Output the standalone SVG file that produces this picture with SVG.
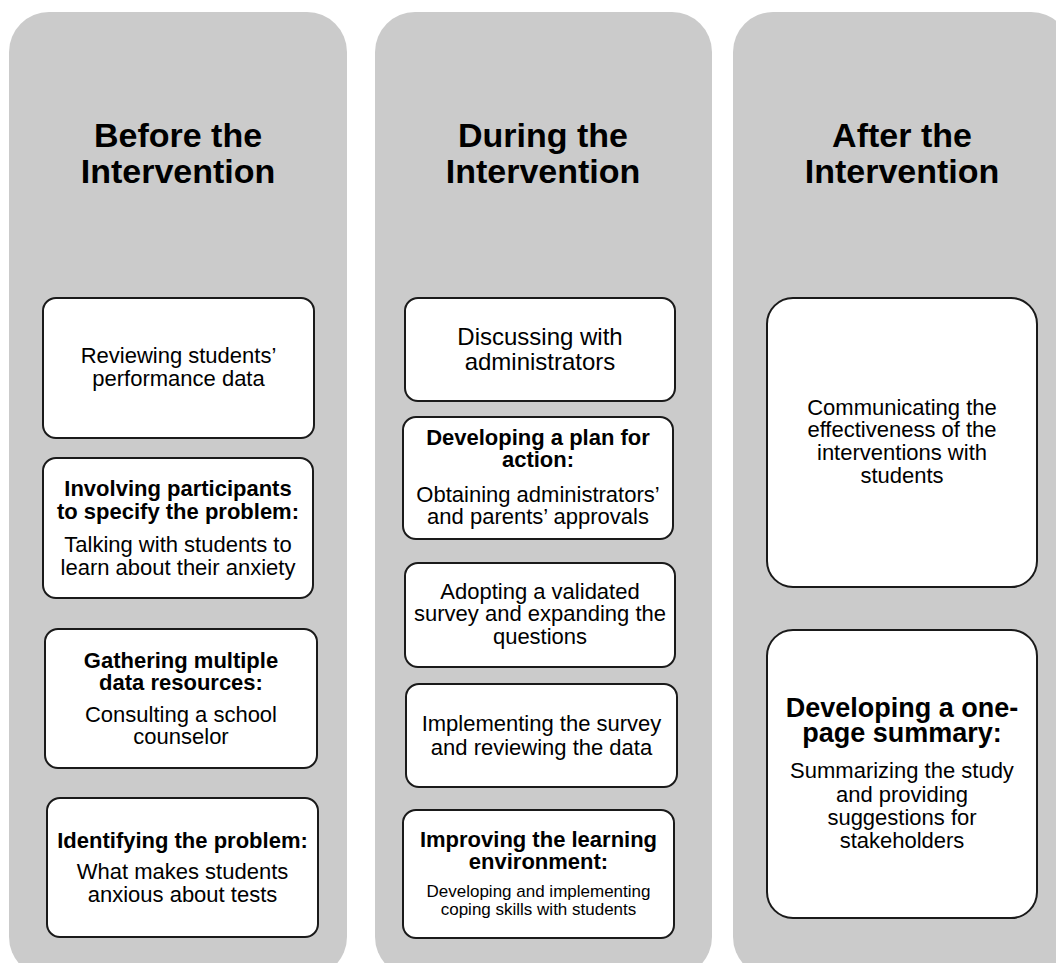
<svg xmlns="http://www.w3.org/2000/svg" width="1056" height="963" viewBox="0 0 1056 963">
  <style>
    .panel { fill: #cbcbcb; }
    .box { fill: #ffffff; stroke: #1a1a1a; stroke-width: 2; }
    text { font-family: "Liberation Sans", Arial, sans-serif; fill: #000; text-anchor: middle; }
    .head { font-size: 34px; font-weight: bold; }
    .b { font-size: 22px; font-weight: bold; }
    .r { font-size: 22px; }
    .big { font-size: 24px; }
    .small { font-size: 17px; }
    .bigb { font-size: 27px; font-weight: bold; }
  </style>

  <!-- phase panels -->
  <g id="panel-before">
    <rect class="panel" x="9" y="12" width="338" height="965" rx="40"/>
    <text class="head" x="178" y="147">Before the</text>
    <text class="head" x="178" y="183">Intervention</text>
  </g>
  <g id="panel-during">
    <rect class="panel" x="375" y="12" width="337" height="965" rx="40"/>
    <text class="head" x="543" y="147">During the</text>
    <text class="head" x="543" y="183">Intervention</text>
  </g>
  <g id="panel-after">
    <rect class="panel" x="733" y="12" width="338" height="965" rx="40"/>
    <text class="head" x="902" y="147">After the</text>
    <text class="head" x="902" y="183">Intervention</text>
  </g>

  <!-- before the intervention -->
  <g id="reviewing-data">
    <rect class="box" x="43" y="298" width="271" height="140" rx="13"/>
    <text class="r" x="178.5" y="363">Reviewing students’</text>
    <text class="r" x="178.5" y="386">performance data</text>
  </g>
  <g id="involving-participants">
    <rect class="box" x="43" y="458" width="270" height="140" rx="13"/>
    <text class="b" x="178" y="496">Involving participants</text>
    <text class="b" x="178" y="519">to specify the problem:</text>
    <text class="r" x="178" y="552">Talking with students to</text>
    <text class="r" x="178" y="575">learn about their anxiety</text>
  </g>
  <g id="gathering-resources">
    <rect class="box" x="45" y="629" width="272" height="139" rx="13"/>
    <text class="b" x="181" y="668">Gathering multiple</text>
    <text class="b" x="181" y="690">data resources:</text>
    <text class="r" x="181" y="722">Consulting a school</text>
    <text class="r" x="181" y="744">counselor</text>
  </g>
  <g id="identifying-problem">
    <rect class="box" x="47" y="798" width="271" height="139" rx="13"/>
    <text class="b" x="182.5" y="848">Identifying the problem:</text>
    <text class="r" x="182.5" y="879">What makes students</text>
    <text class="r" x="182.5" y="902">anxious about tests</text>
  </g>

  <!-- during the intervention -->
  <g id="discussing">
    <rect class="box" x="405" y="298" width="270" height="103" rx="13"/>
    <text class="big" x="540" y="345">Discussing with</text>
    <text class="big" x="540" y="370">administrators</text>
  </g>
  <g id="plan-for-action">
    <rect class="box" x="403" y="417" width="270" height="122" rx="13"/>
    <text class="b" x="538" y="445">Developing a plan for</text>
    <text class="b" x="538" y="467">action:</text>
    <text class="r" x="538" y="502">Obtaining administrators’</text>
    <text class="r" x="538" y="524">and parents’ approvals</text>
  </g>
  <g id="adopting-survey">
    <rect class="box" x="405" y="563" width="270" height="104" rx="13"/>
    <text class="r" x="540" y="599">Adopting a validated</text>
    <text class="r" x="540" y="621">survey and expanding the</text>
    <text class="r" x="540" y="644">questions</text>
  </g>
  <g id="implementing-survey">
    <rect class="box" x="406" y="684" width="271" height="103" rx="13"/>
    <text class="r" x="541.5" y="731">Implementing the survey</text>
    <text class="r" x="541.5" y="755">and reviewing the data</text>
  </g>
  <g id="learning-environment">
    <rect class="box" x="403" y="810" width="271" height="128" rx="13"/>
    <text class="b" x="538.5" y="847">Improving the learning</text>
    <text class="b" x="538.5" y="869">environment:</text>
    <text class="small" x="538.5" y="897">Developing and implementing</text>
    <text class="small" x="538.5" y="915">coping skills with students</text>
  </g>

  <!-- after the intervention -->
  <g id="communicating">
    <rect class="box" x="767" y="298" width="270" height="289" rx="26"/>
    <text class="r" x="902" y="415">Communicating the</text>
    <text class="r" x="902" y="437">effectiveness of the</text>
    <text class="r" x="902" y="460">interventions with</text>
    <text class="r" x="902" y="483">students</text>
  </g>
  <g id="one-page-summary">
    <rect class="box" x="767" y="630" width="270" height="288" rx="26"/>
    <text class="bigb" x="902" y="717">Developing a one-</text>
    <text class="bigb" x="902" y="742">page summary:</text>
    <text class="r" x="902" y="778">Summarizing the study</text>
    <text class="r" x="902" y="802">and providing</text>
    <text class="r" x="902" y="825">suggestions for</text>
    <text class="r" x="902" y="848">stakeholders</text>
  </g>

  <!-- the phases are laid side by side with no connecting lines -->
  <g id="connectors"/>
</svg>
